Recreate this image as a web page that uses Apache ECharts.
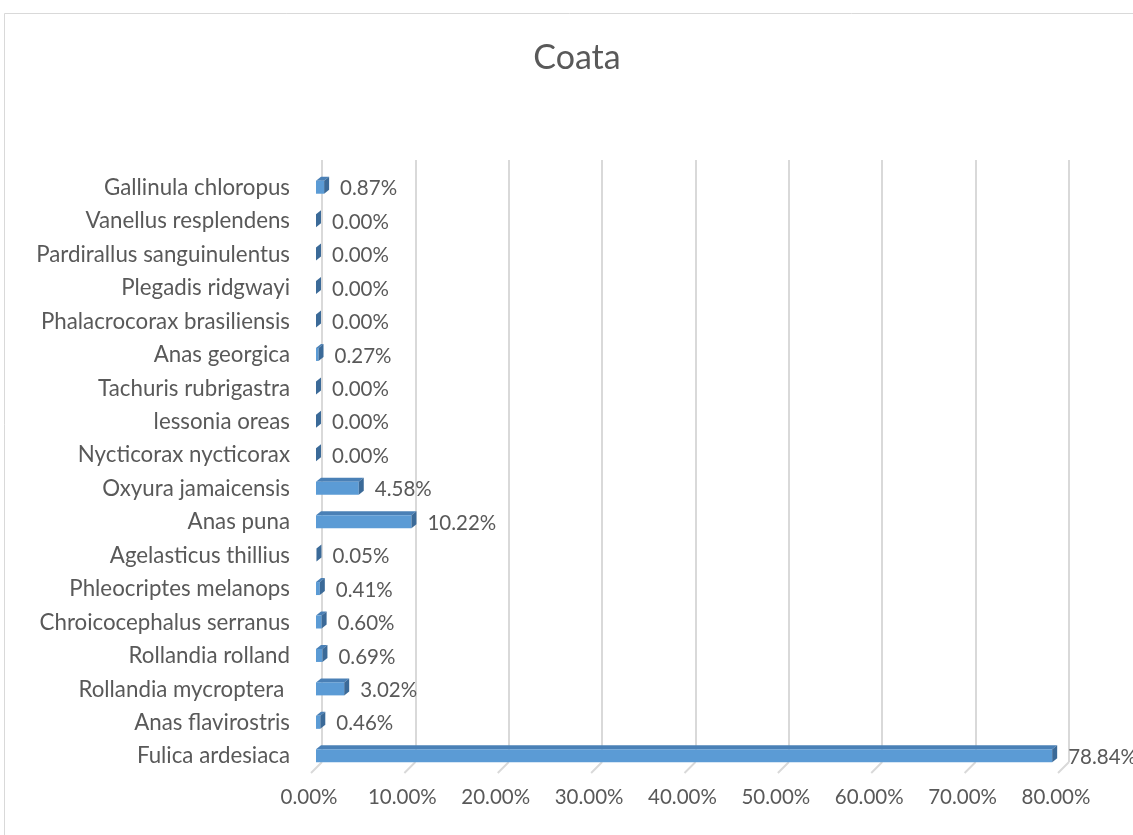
<!DOCTYPE html>
<html>
<head>
<meta charset="utf-8">
<title>Coata</title>
<script src="https://cdn.jsdelivr.net/npm/echarts@6/dist/echarts.min.js"></script>
<style>
  html, body { margin: 0; padding: 0; background: #ffffff; }
  #chart { width: 1133px; height: 835px; }
</style>
</head>
<body>
<div id="chart"></div>
<script>
// Species, listed bottom to top as they appear on the vertical axis
const categories = [
  'Fulica ardesiaca',
  'Anas flavirostris',
  'Rollandia mycroptera ',
  'Rollandia rolland',
  'Chroicocephalus serranus',
  'Phleocriptes melanops',
  'Agelasticus thillius',
  'Anas puna',
  'Oxyura jamaicensis',
  'Nycticorax nycticorax',
  'lessonia oreas',
  'Tachuris rubrigastra',
  'Anas georgica',
  'Phalacrocorax brasiliensis',
  'Plegadis ridgwayi',
  'Pardirallus sanguinulentus',
  'Vanellus resplendens',
  'Gallinula chloropus'
];

// Share of each species (fraction of total)
const shares = [
  0.7884, 0.0046, 0.0302, 0.0069, 0.0060, 0.0041, 0.0005, 0.1022, 0.0458,
  0.0000, 0.0000, 0.0000, 0.0027, 0.0000, 0.0000, 0.0000, 0.0000, 0.0087
];

// Value axis ticks
const xTicks = [0, 0.1, 0.2, 0.3, 0.4, 0.5, 0.6, 0.7, 0.8];

const pct = v => (v * 100).toFixed(2) + '%';

const TEXT = '#595959';
const FONT = 'Lato, "Open Sans", sans-serif';

// 3D-style bar: light front face, darker top and side faces
function renderBar(params, api) {
  const val = api.value(0);
  const idx = api.value(1);
  const p0 = api.coord([0, idx]);
  const p1 = api.coord([val, idx]);
  const sx = -6, sy = 4;       // front face shifted toward the viewer
  const h = 13;                // bar thickness
  const dx = 5, dy = -4;       // depth of the bar
  const x0 = p0[0] + sx, x1 = p1[0] + sx;
  const yT = p0[1] + sy, yB = yT + h;
  const children = [];
  if (x1 - x0 > 0.5) {
    children.push({
      type: 'polygon',
      shape: { points: [[x0, yT], [x1, yT], [x1 + dx, yT + dy], [x0 + dx, yT + dy]] },
      style: { fill: '#4A80B6' }
    });
    children.push({
      type: 'rect',
      shape: { x: x0, y: yT, width: x1 - x0, height: h },
      style: { fill: '#5B9BD5' }
    });
  }
  children.push({
    type: 'polygon',
    shape: { points: [[x1, yT], [x1 + dx, yT + dy], [x1 + dx, yB + dy], [x1, yB]] },
    style: { fill: '#3B6A98' }
  });
  children.push({
    type: 'text',
    style: {
      text: pct(val),
      x: x1 + dx + 11,
      y: p0[1] + 12,
      verticalAlign: 'middle',
      align: 'left',
      fill: TEXT,
      font: '20.5px ' + FONT
    }
  });
  return { type: 'group', children: children };
}

// Slanted floor ticks under each vertical gridline
function renderFloorTick(params, api) {
  const cs = params.coordSys;
  const x = api.coord([api.value(0), 0])[0];
  const yb = cs.y + cs.height;
  return {
    type: 'line',
    shape: { x1: x, y1: yb, x2: x - 11, y2: yb + 11 },
    style: { stroke: '#D9D9D9', lineWidth: 2 }
  };
}

const chart = echarts.init(document.getElementById('chart'), null, { renderer: 'canvas' });

chart.setOption({
  backgroundColor: '#ffffff',
  animation: false,
  title: {
    text: 'Coata',
    left: 572,
    textAlign: 'center',
    top: 36,
    textStyle: { color: TEXT, fontSize: 34, fontWeight: 'normal', fontFamily: FONT }
  },
  graphic: [{
    type: 'rect',
    shape: { x: 4.5, y: 13.5, width: 1200, height: 900 },
    style: { fill: 'none', stroke: '#D9D9D9', lineWidth: 1 },
    silent: true
  }],
  grid: { left: 322, right: 64, top: 160, bottom: 73, containLabel: false },
  xAxis: {
    type: 'value',
    min: 0,
    max: 0.8,
    interval: 0.1,
    axisLine: { show: false },
    axisTick: { show: false },
    splitLine: { show: true, lineStyle: { color: '#D9D9D9', width: 2 } },
    axisLabel: {
      color: TEXT,
      fontSize: 20.5,
      fontFamily: FONT,
      margin: 25,
      padding: [0, 26, 0, 0],
      formatter: v => pct(v)
    }
  },
  yAxis: {
    type: 'category',
    data: categories,
    axisLine: { show: false },
    axisTick: { show: false },
    splitLine: { show: false },
    axisLabel: {
      color: TEXT,
      fontSize: 22.3,
      fontFamily: FONT,
      margin: 32,
      verticalAlign: 'top'
    }
  },
  series: [
    {
      type: 'custom',
      name: 'floor',
      renderItem: renderFloorTick,
      data: xTicks.map(v => [v, 0]),
      encode: { x: 0, y: 1 },
      silent: true,
      z: 1
    },
    {
      type: 'custom',
      name: 'Coata',
      renderItem: renderBar,
      data: shares.map((v, i) => [v, i]),
      encode: { x: 0, y: 1 },
      clip: false,
      z: 3
    }
  ]
});
</script>
</body>
</html>
